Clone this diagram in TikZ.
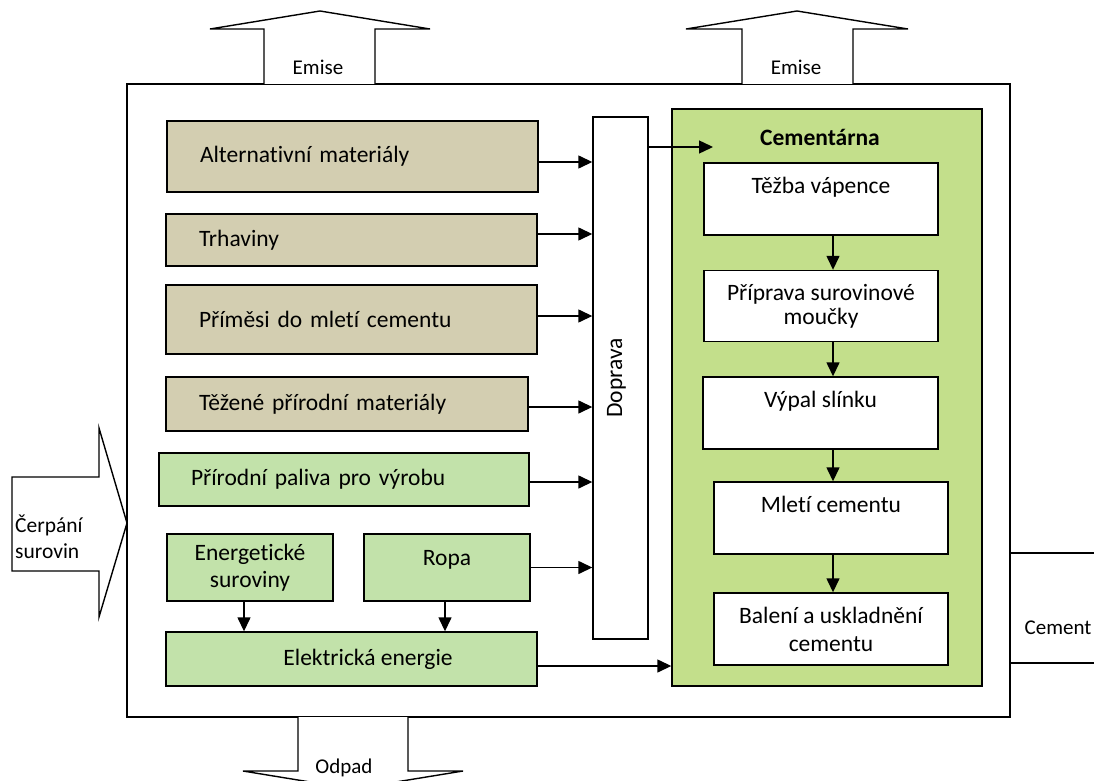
\documentclass[tikz,border=0pt]{standalone}
\usepackage{fontspec}
\setmainfont[Ligatures=NoCommon]{Carlito}
\usepackage{graphicx}
\usetikzlibrary{arrows.meta}
\definecolor{tanbox}{RGB}{211,206,177}
\definecolor{lgreen}{RGB}{194,226,170}
\definecolor{cgreen}{RGB}{195,223,139}
\tikzset{
  base/.style={draw=black, line width=1.4pt, inner sep=0pt, font=\fontsize{23.5}{28}\selectfont},
  tanbox/.style={base, fill=tanbox, align=left, inner xsep=33pt},
  grbox/.style={base, fill=lgreen, align=center},
  grlbox/.style={base, fill=lgreen, align=left, inner xsep=32pt},
  whbox/.style={base, fill=white, align=center},
  lbl/.style={inner sep=0pt, font=\fontsize{21}{26}\selectfont},
  bigarrow/.style={draw=black, line width=1.4pt, fill=white, line join=miter},
  arr/.style={line width=1.4pt, -{Triangle[length=14pt,width=13pt]}}
}
\begin{document}
\begin{tikzpicture}[x=1pt,y=-1pt]
\useasboundingbox (0,0) rectangle (1094,781);
\clip (0,0) rectangle (1094,781);
\fill[white] (0,0) rectangle (1094,781);
% outer frame
\node[base, fill=white, minimum width=883pt, minimum height=633pt] (outer) at (568.5,400.5) {};
% big block arrows
\draw[bigarrow] (264,84) -- (264,29) -- (210,29) -- (320,11) -- (430,29) -- (375,29) -- (375,84);
\draw[bigarrow] (742,84) -- (742,29) -- (686,29) -- (797,11) -- (908,29) -- (853,29) -- (853,84);
\draw[bigarrow] (298,717) -- (298,771) -- (243,771) -- (353,789) -- (463,771) -- (408,771) -- (408,717);
\draw[bigarrow] (127,523) -- (99,617) -- (99,571) -- (12,571) -- (12,477) -- (99,477) -- (99,428) -- cycle;
\draw[bigarrow] (1100,553) -- (1010,553) -- (1010,663) -- (1100,663);
\draw[line width=1.4pt] (outer.north east) -- (outer.south east);
\node[lbl] (em1) at (318,67) {Emise};
\node[lbl] (em2) at (796,67) {Emise};
\node[lbl] (odp) at (344,768) {Odpad};
\node[lbl] (cmt) at (1058,628) {Cement};
\node[lbl, anchor=west, align=left, font=\fontsize{21.5}{26}\selectfont] (cerp) at (15,537) {Čerpání\\surovin};
% left boxes
\node[tanbox, minimum width=371pt, minimum height=71pt, text width=305pt] (alt) at (352.5,156.5) {Alternativní materiály};
\node[tanbox, minimum width=371pt, minimum height=52pt, text width=305pt] (trh) at (351.5,240) {Trhaviny};
\node[tanbox, minimum width=371pt, minimum height=69pt, text width=305pt] (pri) at (351.5,319.5) {Příměsi do mletí cementu};
\node[tanbox, minimum width=362pt, minimum height=54pt, text width=296pt] (tez) at (347,404) {Těžené přírodní materiály};
\node[grlbox, minimum width=370pt, minimum height=53pt, text width=306pt] (pal) at (344,479.5) {Přírodní paliva pro výrobu};
\node[grbox, minimum width=166pt, minimum height=67pt] (ener) at (250,567.5) {Energetické\\[-1pt]suroviny};
\node[grbox, minimum width=166pt, minimum height=67pt] (ropa) at (447,567.5) {Ropa\\[-8pt]~};
\node[grbox, minimum width=371pt, minimum height=54pt] (elek) at (351.5,659) {\hspace*{33pt}Elektrická energie};
% Doprava
\node[whbox, minimum width=55pt, minimum height=522pt] (dop) at (620.5,378) {\rotatebox{90}{Doprava}\hspace*{8pt}};
% Cementarna
\node[base, fill=cgreen, minimum width=310pt, minimum height=577pt] (cem) at (827,397.5) {};
\node[inner sep=0pt, font=\fontsize{23.5}{28}\selectfont\bfseries] (cemt) at (820,137) {Cementárna};
\node[whbox, minimum width=234pt, minimum height=72pt] (tezba) at (821,199) {Těžba vápence\\~};
\node[whbox, minimum width=234pt, minimum height=71pt, font=\fontsize{23.5}{24}\selectfont] (prip) at (821,306) {Příprava surovinové\\moučky};
\node[whbox, minimum width=235pt, minimum height=72pt] (vypal) at (820.5,413) {Výpal slínku\\~};
\node[whbox, minimum width=234pt, minimum height=72pt] (mleti) at (831,518) {Mletí cementu\\~};
\node[whbox, minimum width=234pt, minimum height=72pt] (bal) at (831,629) {Balení a uskladnění\\cementu};
% connectors
\draw[arr] ([yshift=-5.5pt]alt.east) -- ([yshift=-5.5pt]alt.east -| dop.west);
\draw[arr] ([yshift=6pt]trh.east) -- ([yshift=6pt]trh.east -| dop.west);
\draw[arr] ([yshift=3.5pt]pri.east) -- ([yshift=3.5pt]pri.east -| dop.west);
\draw[arr] ([yshift=-3pt]tez.east) -- ([yshift=-3pt]tez.east -| dop.west);
\draw[arr] ([yshift=-2.5pt]pal.east) -- ([yshift=-2.5pt]pal.east -| dop.west);
\draw[arr] (ropa.east) -- (ropa.east -| dop.west);
\coordinate (cemin) at (713,147);
\draw[arr] (dop.east |- cemin) -- (cemin);
\draw[arr] ([yshift=-7pt]elek.east) -- ([yshift=-7pt]elek.east -| cem.west);
\draw[arr] ([xshift=-6pt]ener.south) -- ([xshift=-6pt]ener.south |- elek.north);
\draw[arr] ([xshift=-2pt]ropa.south) -- ([xshift=-2pt]ropa.south |- elek.north);
\draw[arr] ([xshift=12pt]tezba.south) -- ([xshift=12pt]tezba.south |- prip.north);
\draw[arr] ([xshift=12pt]prip.south) -- ([xshift=12pt]prip.south |- vypal.north);
\draw[arr] ([xshift=12.5pt]vypal.south) -- ([xshift=12.5pt]vypal.south |- mleti.north);
\draw[arr] ([xshift=2pt]mleti.south) -- ([xshift=2pt]mleti.south |- bal.north);
\end{tikzpicture}
\end{document}
